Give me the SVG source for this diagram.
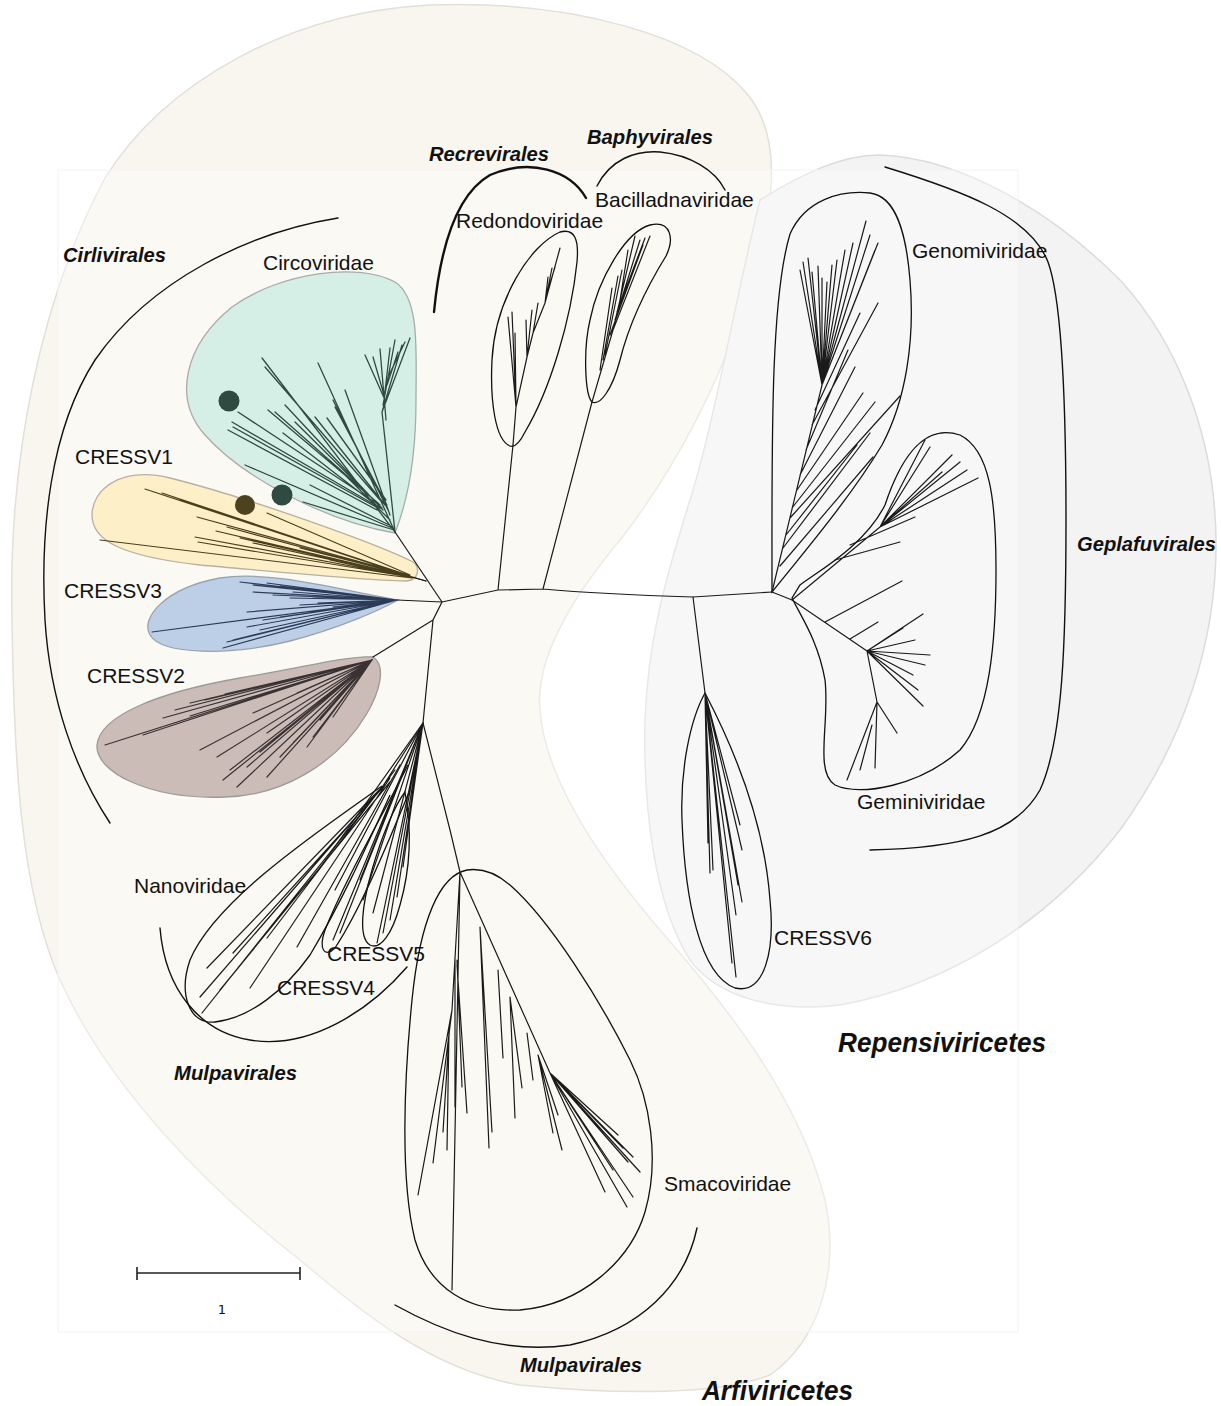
<svg xmlns="http://www.w3.org/2000/svg" width="1221" height="1406" viewBox="0 0 1221 1406">
<style>
.lbl{font-family:"Liberation Sans",Arial,sans-serif;font-size:21px;fill:#111}
.ord{font-family:"Liberation Sans",Arial,sans-serif;font-size:20px;font-weight:bold;font-style:italic;fill:#111}
.cls{font-family:"Liberation Sans",Arial,sans-serif;font-size:27px;font-weight:bold;font-style:italic;fill:#111}
.br{fill:none;stroke:#111;stroke-width:1.4;stroke-linecap:round}
.outl{fill:none;stroke:#111;stroke-width:1.3}
.t{fill:none;stroke:#1a1a1a;stroke-width:1.2;stroke-linecap:round}
</style>
<rect x="0" y="0" width="1221" height="1406" fill="#ffffff"/>
<g id="arfiviricetes-area">
<path d="M12,620 C8,460 40,300 105,178 C165,82 290,12 430,5 C570,0 700,35 748,95 C785,140 772,215 752,280 C725,375 675,470 620,540 C570,600 535,660 540,710 C545,780 600,860 660,930 C730,1010 800,1100 825,1200 C840,1270 820,1340 770,1375 C720,1395 620,1395 520,1385 C430,1370 360,1310 300,1260 C210,1190 110,1090 60,980 C20,890 14,760 12,620 Z" fill="#f8f6ef" stroke="#e2e0d8" stroke-width="1.5"/>
</g>
<g id="repensiviricetes-area">
<path d="M760,200 C800,175 840,155 880,155 C960,158 1050,210 1120,280 C1180,345 1215,440 1216,540 C1217,640 1185,740 1120,830 C1050,920 950,985 840,1005 C780,1012 720,1000 690,960 C655,905 643,810 645,720 C648,640 665,580 690,500 C715,420 735,300 760,200 Z" fill="#f3f3f3" stroke="#dcdcdc" stroke-width="1.5"/>
</g>
<rect x="58" y="170" width="960" height="1162" fill="#ffffff" fill-opacity="0.35" stroke="#f3f3f3" stroke-width="1"/>

<g id="circoviridae">
<path d="M395,533 C330,522 245,480 205,435 C172,398 185,345 232,307 C280,272 360,262 395,282 C420,298 416,350 416,400 C416,460 406,505 395,533 Z" fill="#d6efe6" stroke="#aaaaaa" stroke-width="1.3"/>
<path class="t" style="stroke:#2f4a40;stroke-width:1.3" d="M395,532 L382,412 M382,412 L410,338 M382,412 L402,345 M383,405 L395,340 M384,400 L390,348 M385,400 L365,355 M384,395 L373,357 M387,385 L398,352 M389,375 L405,342 M386,420 L380,349 M395,532 L318,363 M395,532 L262,358 M380,500 L265,367 M390,515 L345,390 M388,510 L333,400 M387,505 L335,407 M385,505 L315,417 M386,500 L327,418 M383,510 L285,405 M382,508 L295,422 M380,505 L275,412 M378,503 L268,410 M375,505 L232,422 M376,507 L233,427 M377,510 L228,430 M376,503 L238,412 M380,508 L283,433 M392,528 L245,465 M394,530 L303,502 M390,520 L340,470 M393,527 L310,485"/>
<circle cx="229" cy="401" r="10.5" fill="#2f4a40"/>
<circle cx="282" cy="495" r="10.5" fill="#2f4a40"/>
<text class="lbl" x="263" y="270">Circoviridae</text>
</g>

<g id="cressv1">
<path d="M413,562 C380,545 250,498 170,478 C120,466 92,490 92,515 C92,540 120,556 200,565 C280,572 360,580 405,581 C420,581 420,566 413,562 Z" fill="#fdefc8" stroke="#b8b0a0" stroke-width="1.3"/>
<path class="t" style="stroke:#4a3f1c;stroke-width:1.2" d="M412,577 L145,489 M410,576 L162,493 M408,575 L180,500 M408,575 L197,517 M409,576 L227,527 M410,575 L267,513 M412,578 L100,540 M410,577 L195,537 M410,577 L198,542 M411,577 L240,538 M411,577 L253,543 M411,577 L280,547 M410,576 L300,548 M412,578 L330,560 M412,577 L216,531 M426,581 L412,577"/>
<circle cx="245" cy="505" r="10" fill="#4d4220"/>
<text class="lbl" x="75" y="464">CRESSV1</text>
</g>

<g id="cressv3">
<path d="M398,600 C340,590 270,570 220,578 C165,588 140,618 150,635 C162,655 230,656 290,641 C340,628 380,610 398,600 Z" fill="#bccfe7" stroke="#9aa3ad" stroke-width="1.3"/>
<path class="t" style="stroke:#2b3b58;stroke-width:1.2" d="M397,600 L240,582 M397,600 L253,585 M397,600 L267,583 M397,600 L280,586 M397,600 L253,592 M397,600 L273,595 M397,600 L293,592 M397,600 L313,597 M397,600 L330,593 M397,600 L152,632 M397,600 L223,648 M397,600 L227,642 M397,600 L233,640 M397,600 L247,612 M397,600 L263,620 M397,600 L280,617 M397,600 L300,605 M397,600 L310,612 M397,600 L333,607 M397,600 L247,627 M397,600 L260,630 M397,600 L290,598 M397,600 L318,603 M397,600 L350,598"/>
<text class="lbl" x="64" y="598">CRESSV3</text>
</g>

<g id="cressv2">
<path d="M373,657 C386,665 381,690 366,715 C336,765 280,796 225,797 C150,800 95,772 97,745 C100,715 160,692 240,678 C300,668 350,655 373,657 Z" fill="#cbbcb8" stroke="#9a9a9a" stroke-width="1.3"/>
<path class="t" style="stroke:#3a3232;stroke-width:1.2" d="M372,660 L105,745 M372,660 L143,735 M372,660 L163,718 M372,660 L175,710 M372,660 L190,703 M372,660 L205,700 M372,660 L225,694 M372,660 L267,733 M372,660 L293,743 M372,660 L307,747 M372,660 L217,757 M372,660 L200,750 M372,660 L223,780 M372,660 L237,787 M372,660 L247,767 M372,660 L267,777 M372,660 L280,757 M372,660 L313,737 M372,660 L333,717 M372,660 L253,713 M372,660 L237,704 M372,660 L297,693 M372,660 L190,716 M372,660 L230,770 M372,660 L260,752 M372,660 L320,720"/>
<text class="lbl" x="87" y="683">CRESSV2</text>
</g>

<g id="nanoviridae">
<path class="outl" d="M382,786 C320,830 215,900 190,960 C178,995 190,1025 215,1022 C250,1018 285,990 310,955 C340,905 365,850 390,795"/>
<path class="t" d="M423,723 L383,786 M383,786 L207,968 M383,786 L200,997 M383,786 L202,1013 M390,778 L250,988 M385,785 L233,953 M395,770 L267,938 M400,765 L297,947 M390,782 L220,990"/>
<text class="lbl" x="134" y="893">Nanoviridae</text>
</g>
<g id="cressv4">
<path class="outl" d="M408,765 C380,820 345,880 325,930 C318,950 325,958 335,948 C360,910 385,850 410,790"/>
<path class="t" d="M423,723 L317,872 M423,723 L335,890 M423,723 L333,940 M423,723 L340,933 M423,723 L360,880"/>
<text class="lbl" x="277" y="995">CRESSV4</text>
</g>
<g id="cressv5">
<path class="outl" d="M405,792 C412,830 410,870 400,905 C392,935 380,950 370,945 C358,938 362,905 372,870 C382,835 395,805 405,792 Z"/>
<path class="t" d="M423,723 L363,900 M423,723 L377,943 M423,723 L390,920 M423,723 L397,897 M423,723 L403,867 M423,723 L373,913 M423,723 L383,933"/>
<text class="lbl" x="327" y="961">CRESSV5</text>
</g>

<g id="smacoviridae">
<path class="outl" d="M467,870 C440,875 420,920 412,1000 C404,1080 400,1180 415,1240 C430,1290 470,1312 520,1310 C580,1305 630,1262 645,1212 C660,1160 650,1100 630,1060 C600,1000 550,920 510,885 C495,872 480,868 467,870 Z"/>
<path class="t" d="M460,872 L452,1290 M460,872 L452,1010 L418,1195 M452,1010 L433,1163 M450,1020 L443,1132 M449,1030 L447,1150 M455,957 L455,1107 M457,960 L462,1087 M457,965 L467,1113 M460,872 L550,1073 M480,927 L489,1148 M480,927 L492,1132 M498,970 L503,1058 M510,997 L515,1118 M510,997 L522,1088 M527,1033 L533,1080 M538,1055 L562,1150 M538,1055 L553,1133 M538,1055 L558,1115 M550,1073 L618,1135 M550,1073 L633,1157 M550,1073 L640,1172 M550,1073 L633,1197 M550,1073 L627,1207 M550,1073 L605,1192 M550,1073 L613,1170 M550,1073 L628,1162 M550,1073 L623,1148"/>
<text class="lbl" x="664" y="1191">Smacoviridae</text>
</g>

<g id="redondoviridae">
<path class="outl" d="M510,446 C495,440 490,400 492,360 C495,300 530,245 560,232 C575,228 579,240 577,262 C571,320 550,390 525,432 C520,442 515,448 510,446 Z"/>
<path class="t" d="M513,445 L516,407 L527,357 L533,333 L545,303 L560,248 M516,407 L508,317 M516,407 L512,312 M516,407 L515,333 M527,357 L526,320 M527,357 L532,310 M533,333 L538,303 M545,303 L548,277 M545,303 L552,268 M548,290 L555,267"/>
<text class="lbl" x="456" y="228">Redondoviridae</text>
</g>

<g id="bacilladnaviridae">
<path class="outl" d="M592,402 C585,395 583,350 590,320 C598,280 625,232 650,225 C672,220 674,240 666,256 C650,282 630,320 620,360 C612,390 600,406 592,402 Z"/>
<path class="t" d="M592,402 L613,330 L635,236 M613,330 L650,236 M615,320 L640,240 M617,312 L645,238 M620,300 L628,250 M605,355 L622,270 M600,370 L612,288 M603,360 L618,276 M610,335 L643,245"/>
<text class="lbl" x="595" y="207">Bacilladnaviridae</text>
</g>

<g id="genomiviridae">
<path class="outl" d="M772,592 C772,450 770,300 790,234 C805,200 840,190 870,193 C895,196 906,230 910,280 C915,340 906,400 882,445 C852,495 810,545 772,592 Z"/>
<path class="t" d="M772,592 L822,385 M780,566 L873,457 M783,548 L870,433 M786,535 L857,445 M790,518 L900,396 M792,508 L875,402 M797,490 L863,393 M800,475 L855,367 M806,450 L848,350 M812,425 L878,303 M815,410 L860,313 M822,385 L800,270 M822,385 L803,262 M822,385 L808,258 M822,385 L812,272 M822,385 L818,266 M822,385 L822,278 M822,385 L827,282 M822,385 L832,265 M822,385 L837,260 M822,385 L845,250 M822,385 L853,243 M822,385 L866,221 M822,385 L870,235 M822,385 L878,243 M822,385 L875,250"/>
<text class="lbl" x="912" y="258">Genomiviridae</text>
</g>

<g id="geminiviridae">
<path class="outl" d="M792,598 C800,615 818,640 825,680 C830,722 814,772 835,785 C860,797 920,786 960,750 C990,715 996,640 996,570 C996,500 990,450 960,435 C930,425 905,445 885,505 C865,545 820,570 800,585 Z"/>
<path class="t" d="M772,592 L792,600 L867,651 M792,600 L880,527 M880,527 L930,447 M880,527 L952,455 M880,527 L978,478 M880,527 L967,470 M880,527 L942,472 M880,527 L925,440 M880,527 L960,462 M850,545 L915,517 M835,560 L900,542 M825,622 L902,581 M850,639 L878,622 M867,651 L923,614 M867,651 L930,655 M867,651 L913,675 M867,651 L923,706 M867,651 L903,628 M867,651 L915,640 M867,651 L925,665 M867,651 L918,690 M867,651 L877,702 L875,768 M877,702 L847,780 M877,702 L897,733 M872,725 L860,770"/>
<text class="lbl" x="857" y="809">Geminiviridae</text>
</g>

<g id="cressv6">
<path class="outl" d="M705,693 C690,720 680,770 682,820 C685,900 700,975 735,988 C765,995 775,950 770,900 C765,830 740,760 705,693 Z"/>
<path class="t" d="M693,597 L705,693 M705,693 L710,873 M705,693 L713,870 M705,693 L740,825 M705,693 L742,850 M705,693 L742,902 M705,693 L736,915 M705,693 L732,963 M705,693 L736,977 M705,693 L708,843 M705,693 L738,885"/>
<text class="lbl" x="774" y="945">CRESSV6</text>
</g>

<g id="connectors">
<path class="t" d="M442,602 L498,590 L543,589 Q600,594 693,597 L772,592 M442,602 L395,532 M426,581 L412,577 M442,602 L397,600 M442,602 L433,620 L423,723 M433,620 L373,657 M498,590 L513,445 M543,589 L592,402 M423,723 L450,830 L460,872"/>
</g>

<g id="brackets">
<path class="br" d="M338,218 C250,232 150,280 95,360 C50,430 40,530 45,620 C50,700 75,770 110,823"/>
<path class="br" style="stroke-width:2.4" d="M434,312 C440,250 455,195 490,175 C530,158 570,170 586,198"/>
<path class="br" d="M597,186 C610,160 635,150 660,152 C690,155 715,170 725,190"/>
<path class="br" d="M885,167 C960,190 1030,215 1048,262 C1062,300 1066,400 1066,520 C1066,640 1063,740 1040,790 C1015,835 960,848 870,850"/>
<path class="br" d="M160,928 C165,990 200,1032 250,1040 C310,1050 370,1010 407,967"/>
<path class="br" d="M697,1228 C685,1285 640,1330 570,1345 C500,1355 440,1330 395,1305"/>
<text class="ord" x="63" y="262" textLength="103" lengthAdjust="spacingAndGlyphs">Cirlivirales</text>
<text class="ord" x="429" y="161" textLength="120" lengthAdjust="spacingAndGlyphs">Recrevirales</text>
<text class="ord" x="587" y="144" textLength="126" lengthAdjust="spacingAndGlyphs">Baphyvirales</text>
<text class="ord" x="1077" y="551" textLength="139" lengthAdjust="spacingAndGlyphs">Geplafuvirales</text>
<text class="ord" x="174" y="1080" textLength="123" lengthAdjust="spacingAndGlyphs">Mulpavirales</text>
<text class="ord" x="520" y="1372" textLength="122" lengthAdjust="spacingAndGlyphs">Mulpavirales</text>
<text class="cls" x="838" y="1052" textLength="208" lengthAdjust="spacingAndGlyphs">Repensiviricetes</text>
<text class="cls" x="702" y="1400" textLength="151" lengthAdjust="spacingAndGlyphs">Arfiviricetes</text>
</g>

<g id="scale-bar">
<path d="M137,1273 L300,1273 M137,1267 L137,1280 M300,1267 L300,1280" fill="none" stroke="#222" stroke-width="1.6"/>
<text x="222" y="1314" text-anchor="middle" font-family="DejaVu Sans, sans-serif" font-size="13" fill="#111111">1</text>
</g>
</svg>
